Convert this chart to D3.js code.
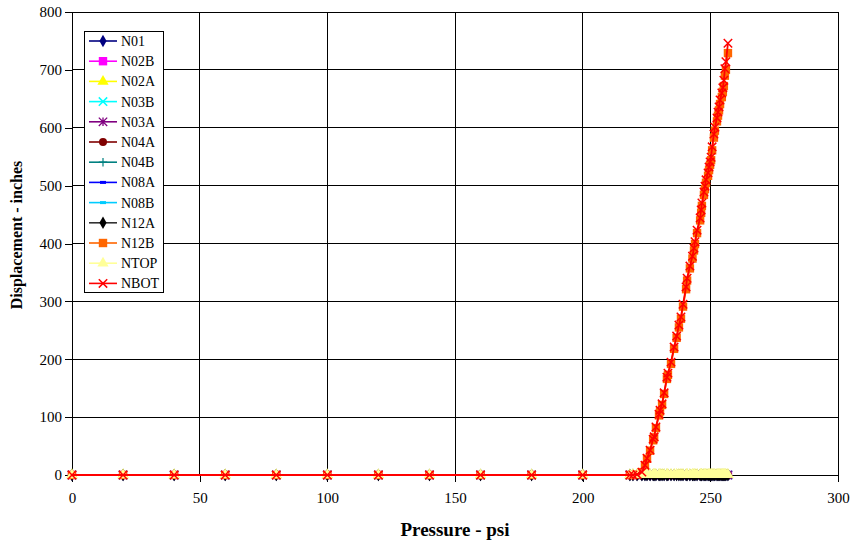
<!DOCTYPE html>
<html>
<head>
<meta charset="utf-8">
<script src="https://cdn.jsdelivr.net/npm/d3@7"></script>
<style>
  body { margin: 0; background: #fff; }
  text { font-family: "Liberation Serif", "Times New Roman", serif; }
</style>
</head>
<body>
<svg id="chart"></svg>
<script>
// pressure readings (psi), shared by every node
const pressure = [
  0, 20, 40, 60, 80, 100, 120, 140, 160, 180, 200,
  218.5, 219.7, 221.3, 223.2, 224.4, 225.2, 226.4, 227.6, 228.0, 228.7,
  229.9, 230.3, 231.1, 231.9, 233.0, 233.4, 234.6, 235.8, 236.8, 237.7,
  238.5, 239.3, 240.5, 240.9, 242.0, 243.0, 243.6, 244.0, 244.8, 246.0,
  246.4, 246.7, 247.5, 247.9, 248.3, 249.1, 249.5, 249.9, 250.3, 250.7,
  251.4, 251.8, 252.6, 253.0, 253.4, 253.8, 254.5, 254.9, 255.3, 255.7,
  256.1, 256.9
];

const nbotDisp = [
  0, 0, 0, 0, 0, 0, 0, 0, 0, 0, 0,
  0, 0, 1, 5, 17, 29, 43, 62, 66, 83,
  105, 112, 123, 142, 169, 176, 195, 221, 240, 259,
  273, 295, 325, 340, 361, 378, 392, 403, 423, 444,
  458, 470, 489, 499, 510, 522, 532, 541, 549, 567,
  589, 601, 617, 627, 636, 648, 660, 669, 682, 702,
  714, 746
];

const n12bDisp = [
  0, 0, 0, 0, 0, 0, 0, 0, 0, 0, 0,
  0, 0, 1, 5, 16, 28, 42, 60, 65, 81,
  103, 110, 121, 140, 166, 173, 192, 218, 237, 255,
  270, 291, 321, 336, 357, 374, 388, 399, 418, 440,
  453, 465, 484, 494, 505, 517, 527, 536, 544, 561,
  583, 595, 611, 621, 630, 641, 653, 662, 672, 690,
  700, 729
];

const flatDisp = [
  0, 0, 0, 0, 0, 0, 0, 0, 0, 0, 0,
  0, 0, 0, 0, 0, 0, 0, 0, 0, 0,
  0, 0, 0, 0, 0, 0, 0, 0, 0, 0,
  0, 0, 0, 0, 0, 0, 0, 0, 0, 0,
  0, 0, 0, 0, 0, 0, 0, 0, 0, 0,
  0, 0, 0, 0, 0, 0, 0, 0, 0, 0,
  0, 0
];

const ntopDisp = [
  0, 0, 0, 0, 0, 0, 0, 0, 0, 0, 0,
  0, 1, 1, 1, 1, 1, 1, 1, 1, 1,
  1, 1, 1, 1, 1, 1, 1, 1, 1, 1,
  1, 1, 1, 1, 1, 1, 1, 1, 1, 1,
  1, 1, 1, 1, 1, 1, 1, 1, 1, 1,
  1, 1, 1, 1, 1, 1, 1, 1, 1, 1,
  1, 1
];

const seriesNames = ["N01", "N02B", "N02A", "N03B", "N03A", "N04A", "N04B",
  "N08A", "N08B", "N12A", "N12B", "NTOP", "NBOT"];
const seriesValues = [flatDisp, flatDisp, flatDisp, flatDisp, flatDisp, flatDisp,
  flatDisp, flatDisp, flatDisp, flatDisp, n12bDisp, ntopDisp, nbotDisp];

const xTicks = [0, 50, 100, 150, 200, 250, 300];
const yTicks = [0, 100, 200, 300, 400, 500, 600, 700, 800];

// marker style per series: [line colour, marker colour, marker shape]
const styles = [
  ["#000080", "#000080", "diamond"],
  ["#FF00FF", "#FF00FF", "square"],
  ["#FFFF00", "#FFFF00", "triangle"],
  ["#00FFFF", "#00FFFF", "x"],
  ["#800080", "#800080", "star"],
  ["#800000", "#800000", "circle"],
  ["#008080", "#008080", "plus"],
  ["#0000FF", "#0000FF", "dash"],
  ["#00CCFF", "#00CCFF", "dash"],
  ["#333333", "#000000", "diamond"],
  ["#FF6600", "#FF6600", "square"],
  ["#FFFF99", "#FFFF99", "triangle"],
  ["#FF0000", "#FF0000", "x"]
];

const width = 853, height = 543;
const margin = { left: 72, right: 15, top: 12, bottom: 68 };

const svg = d3.select("#chart").attr("width", width).attr("height", height);

const x = d3.scaleLinear().domain([0, 300]).range([margin.left, width - margin.right]);
const y = d3.scaleLinear().domain([0, 800]).range([height - margin.bottom, margin.top]);

// gridlines
svg.append("g").selectAll("line").data(yTicks).enter().append("line")
  .attr("x1", x(0)).attr("x2", x(300))
  .attr("y1", d => y(d)).attr("y2", d => y(d))
  .attr("stroke", "#000").attr("stroke-width", 1).attr("shape-rendering", "crispEdges");
svg.append("g").selectAll("line").data(xTicks).enter().append("line")
  .attr("x1", d => x(d)).attr("x2", d => x(d))
  .attr("y1", y(0)).attr("y2", y(800))
  .attr("stroke", "#000").attr("stroke-width", 1).attr("shape-rendering", "crispEdges");

// axes
const xAxis = svg.append("g")
  .attr("transform", "translate(0," + y(0) + ")")
  .call(d3.axisBottom(x).tickValues(xTicks).tickSize(7).tickSizeOuter(0).tickPadding(10));
const yAxis = svg.append("g")
  .attr("transform", "translate(" + x(0) + ",0)")
  .call(d3.axisLeft(y).tickValues(yTicks).tickSize(7).tickSizeOuter(0).tickPadding(3));
[xAxis, yAxis].forEach(a => {
  a.select(".domain").attr("stroke", "#000").attr("shape-rendering", "crispEdges");
  a.selectAll(".tick line").attr("stroke", "#000").attr("shape-rendering", "crispEdges");
  a.selectAll("text").style("font-family", "Liberation Serif").style("font-size", "15px").attr("fill", "#000");
});

/**
 * Draws one marker of the given shape into a group.
 */
function drawMarker(g, shape, color, cx, cy) {
  const s = 4.2;
  if (shape === "diamond") {
    g.append("path").attr("d", d3.symbol(d3.symbolDiamond, 45)())
      .attr("transform", "translate(" + cx + "," + cy + ")").attr("fill", color);
  } else if (shape === "square") {
    g.append("rect").attr("x", cx - s).attr("y", cy - s).attr("width", 2 * s).attr("height", 2 * s)
      .attr("fill", color);
  } else if (shape === "triangle") {
    g.append("path").attr("d", d3.symbol(d3.symbolTriangle, 55)())
      .attr("transform", "translate(" + cx + "," + cy + ")").attr("fill", color);
  } else if (shape === "circle") {
    g.append("circle").attr("cx", cx).attr("cy", cy).attr("r", 4).attr("fill", color);
  } else if (shape === "x") {
    g.append("path").attr("d", "M" + (cx - s) + "," + (cy - s) + "L" + (cx + s) + "," + (cy + s) +
      "M" + (cx - s) + "," + (cy + s) + "L" + (cx + s) + "," + (cy - s))
      .attr("stroke", color).attr("stroke-width", 1.5);
  } else if (shape === "plus") {
    g.append("path").attr("d", "M" + (cx - s) + "," + cy + "L" + (cx + s) + "," + cy +
      "M" + cx + "," + (cy - s) + "L" + cx + "," + (cy + s))
      .attr("stroke", color).attr("stroke-width", 1.2);
  } else if (shape === "star") {
    g.append("path").attr("d", "M" + (cx - s) + "," + (cy - s) + "L" + (cx + s) + "," + (cy + s) +
      "M" + (cx - s) + "," + (cy + s) + "L" + (cx + s) + "," + (cy - s) +
      "M" + cx + "," + (cy - s) + "L" + cx + "," + (cy + s))
      .attr("stroke", color).attr("stroke-width", 1.3);
  } else if (shape === "dash") {
    g.append("rect").attr("x", cx - 3).attr("y", cy - 1.5).attr("width", 6).attr("height", 3)
      .attr("fill", color);
  }
}

// series lines and markers
const line = d3.line().x(d => x(d[0])).y(d => y(d[1]));
seriesNames.forEach(function(name, i) {
  const pts = pressure.map((p, j) => [p, seriesValues[i][j]]);
  const g = svg.append("g").attr("class", "series");
  g.append("path").datum(pts).attr("d", line)
    .attr("fill", "none").attr("stroke", styles[i][0]).attr("stroke-width", 1.8);
  pts.forEach(d => drawMarker(g, styles[i][2], styles[i][1], x(d[0]), y(d[1])));
});

// legend
const legend = svg.append("g").attr("transform", "translate(84,31)");
legend.append("rect").attr("width", 79).attr("height", 261)
  .attr("fill", "#fff").attr("stroke", "#000").attr("stroke-width", 1)
  .attr("shape-rendering", "crispEdges");
seriesNames.forEach(function(name, i) {
  const ly = 10 + i * 20.2;
  legend.append("line").attr("x1", 5).attr("x2", 33).attr("y1", ly).attr("y2", ly)
    .attr("stroke", styles[i][0]).attr("stroke-width", 1.6);
  drawMarker(legend, styles[i][2], styles[i][1], 19, ly);
  legend.append("text").attr("x", 37).attr("y", ly + 5)
    .style("font-size", "14px").attr("fill", "#000").text(name);
});

// axis titles
svg.append("text").attr("x", 455).attr("y", 536).attr("text-anchor", "middle")
  .style("font-size", "19px").style("font-weight", "bold").text("Pressure - psi");
svg.append("text").attr("transform", "translate(22,235) rotate(-90)").attr("text-anchor", "middle")
  .style("font-size", "16px").style("font-weight", "bold").text("Displacement - inches");
</script>
</body>
</html>
